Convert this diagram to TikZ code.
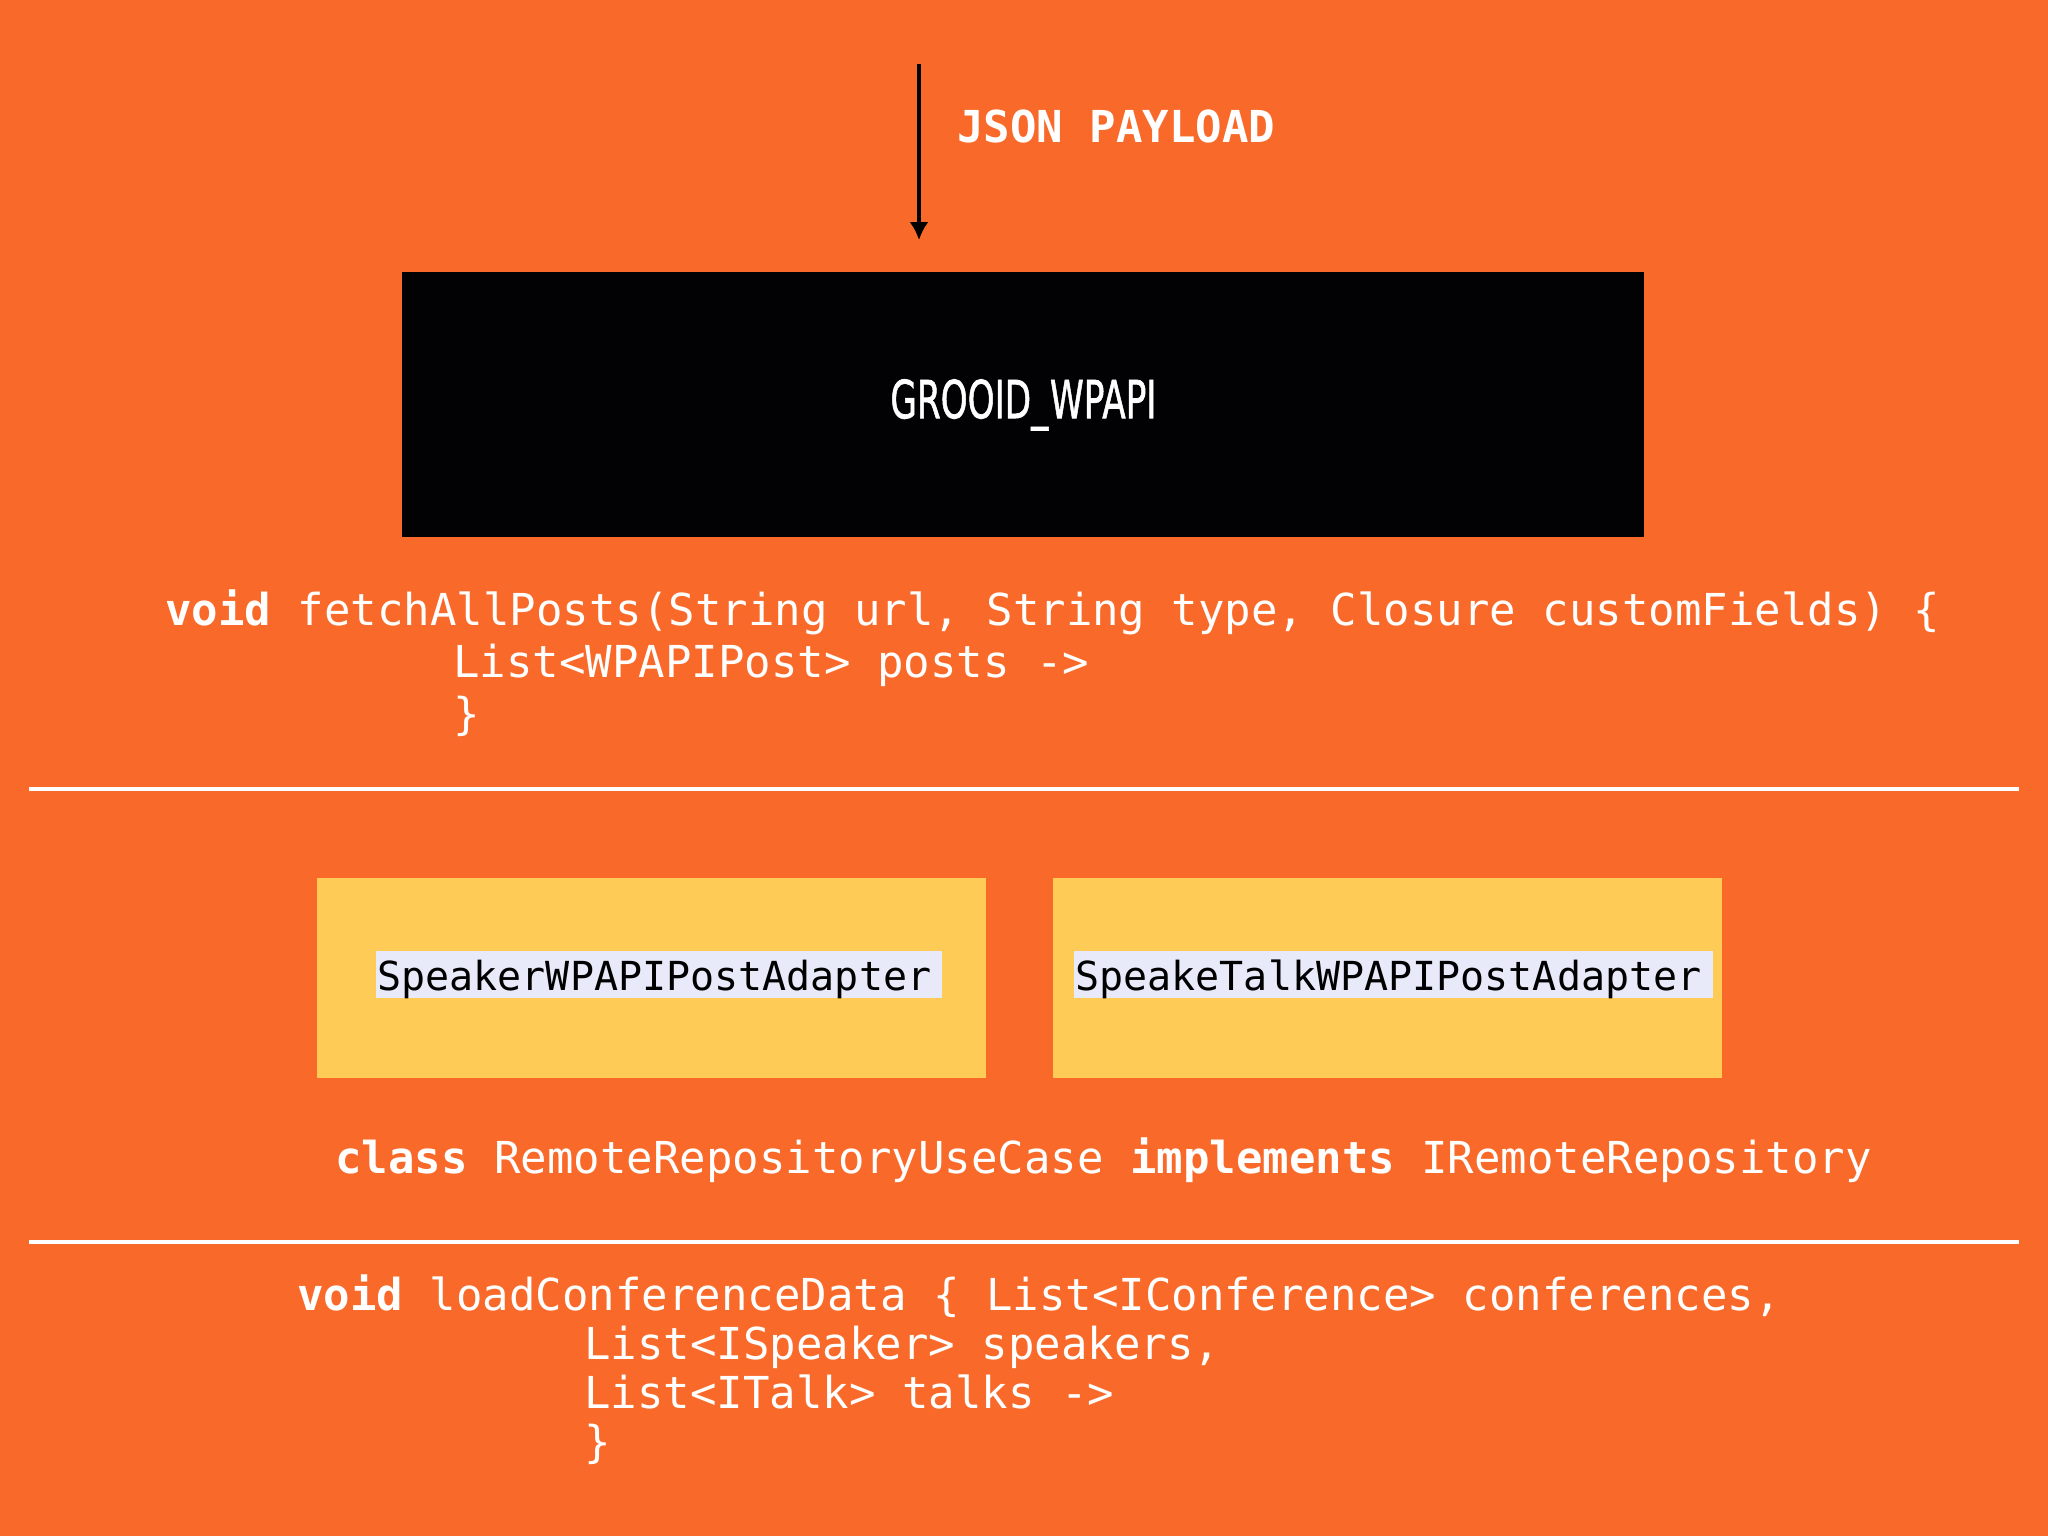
\documentclass[tikz,border=0pt]{standalone}
\usepackage{graphicx}
\usepackage{fontspec}
\setmonofont{DejaVu Sans Mono}
\newfontfamily\bannerfont{DejaVu Sans}[FakeBold=1.4]
\usetikzlibrary{arrows.meta, positioning}

\definecolor{slideorange}{RGB}{249,106,42}
\definecolor{adapteryellow}{RGB}{254,203,87}
\definecolor{labellavender}{RGB}{232,234,250}
\definecolor{boxblack}{RGB}{2,2,4}

\begin{document}
\begin{tikzpicture}[
        x=0.5pt, y=-0.5pt,
        codeline/.style = {
            anchor=base west,
            inner sep=0pt,
            text=white,
            font=\ttfamily\fontsize{22}{26}\selectfont
        },
        apibox/.style = {
            rectangle,
            fill=boxblack,
            anchor=north west,
            minimum width=621pt,
            minimum height=132.5pt,
            inner sep=0pt,
            text=white
        },
        adapterbox/.style = {
            rectangle,
            fill=adapteryellow,
            anchor=north west,
            minimum width=334.5pt,
            minimum height=100pt
        },
        adapterlabel/.style = {
            fill=labellavender,
            inner sep=0pt,
            anchor=base west,
            align=left,
            text height=19.5pt,
            text depth=4pt,
            text=black,
            font=\ttfamily\fontsize{20}{24}\selectfont
        },
        feedarrow/.style = {
            line width=1.6pt,
            -{Latex[length=9pt, width=9.5pt]}
        },
        rule/.style = {white, line width=1.8pt}
    ]

    % slide background
    \fill[slideorange] (0,0) rectangle (2048,1536);

    % incoming payload
    \coordinate (feedtop) at (919,64);
    \coordinate (feedtip) at (919,240);
    \draw[feedarrow] (feedtop) -- (feedtip);
    \node[codeline, font=\ttfamily\bfseries\fontsize{22}{26}\selectfont] (payload) at (957,142) {JSON PAYLOAD};

    \node[apibox] (wpapi) at (402,272) {\resizebox{133pt}{19.5pt}{\bannerfont GROOID\_\kern0.05em WPAPI}};

    \node[codeline] (fetchA) at (165,625) {\textbf{void} fetchAllPosts(String url, String type, Closure customFields) \{};
    \node[codeline] (fetchB) at (453,677) {List<WPAPIPost> posts ->};
    \node[codeline] (fetchC) at (453,729) {\}};

    \coordinate (ruleAl) at (29,789);
    \coordinate (ruleAr) at (2019,789);
    \draw[rule] (ruleAl) -- (ruleAr);

    % adapters
    \node[adapterbox] (spkbox) at (317,878) {};
    \node[adapterbox] (talkbox) at (1053,878) {};
    \node[adapterlabel, text width=283pt] (spklabel) at ([xshift=29.5pt]spkbox.north west |- 0,990) {\hspace*{0.5pt}SpeakerWPAPIPostAdapter};
    \node[adapterlabel, text width=319.5pt] (talklabel) at ([xshift=10.5pt]talkbox.north west |- 0,990) {\hspace*{0.5pt}SpeakeTalkWPAPIPostAdapter};

    \node[codeline] (usecase) at (335,1173) {\textbf{class} RemoteRepositoryUseCase \textbf{implements} IRemoteRepository};

    \coordinate (ruleBl) at (29,1242);
    \coordinate (ruleBr) at (2019,1242);
    \draw[rule] (ruleBl) -- (ruleBr);

    \node[codeline] (loadA) at (297,1310) {\textbf{void} loadConferenceData \{ List<IConference> conferences,};
    \node[codeline] (loadB) at (584,1359) {List<ISpeaker> speakers,};
    \node[codeline] (loadC) at (584,1408) {List<ITalk> talks ->};
    \node[codeline] (loadD) at (584,1457) {\}};

\end{tikzpicture}
\end{document}
